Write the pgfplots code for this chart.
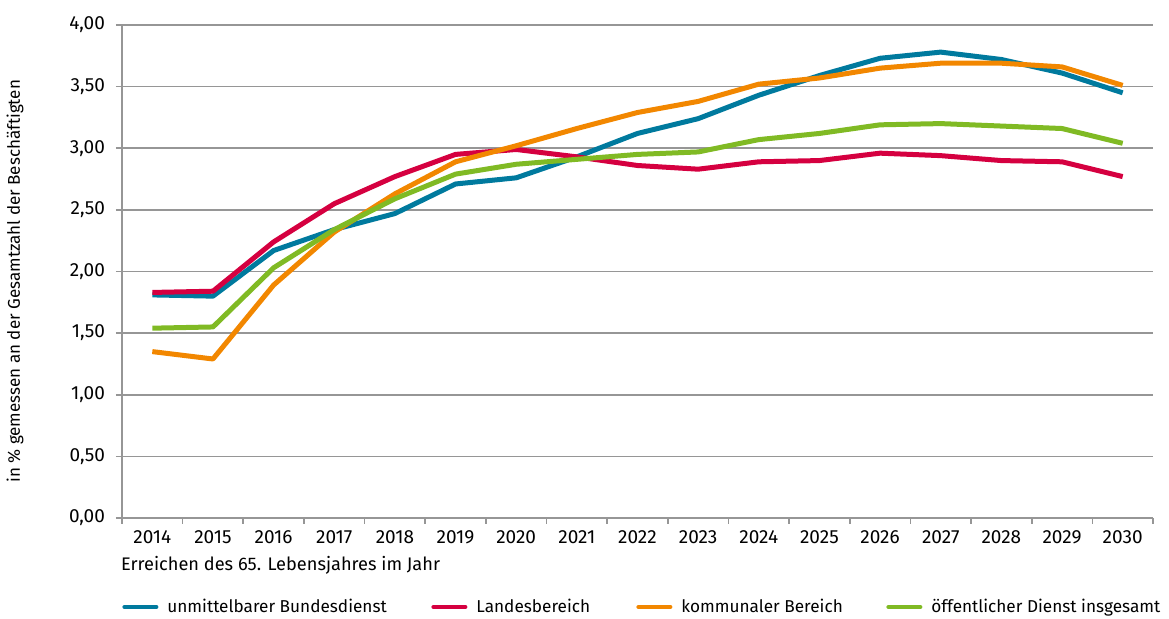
\documentclass[border=0pt]{standalone}
\usepackage{fontspec}
\setmainfont{Fira Sans}
\usepackage{pgfplots}
\pgfplotsset{compat=1.18}
\definecolor{cblue}{RGB}{0,122,158}
\definecolor{cred}{RGB}{213,0,64}
\definecolor{corange}{RGB}{242,135,0}
\definecolor{cgreen}{RGB}{128,186,36}
\definecolor{cgrid}{RGB}{150,150,150}
\begin{document}
\begin{tikzpicture}
\begin{axis}[
  scale only axis,
  width=515.5pt, height=246.5pt,
  xmin=-0.5, xmax=16.5, ymin=0, ymax=4,
  axis x line*=bottom, axis y line*=left,
  axis line style={cgrid, line width=0.8pt},
  xtick={0,...,16},
  xticklabels={2014,2015,2016,2017,2018,2019,2020,2021,2022,2023,2024,2025,2026,2027,2028,2029,2030},
  minor xtick={-0.5,0.5,...,16.5},
  major x tick style={draw=none},
  minor x tick style={cgrid, line width=0.8pt},
  minor tick length=3pt,
  ytick={0,0.5,...,4},
  major y tick style={cgrid, line width=0.8pt},
  major tick length=3pt,
  tick align=outside,
  ymajorgrids,
  grid style={cgrid, line width=0.8pt},
  y tick label style={/pgf/number format/use comma, /pgf/number format/fixed, /pgf/number format/fixed zerofill, /pgf/number format/precision=2, /pgf/number format/assume math mode=true, xshift=-2pt},
  tick label style={font=\fontsize{9.5}{11}\selectfont, text=black},
  x tick label style={yshift=0pt},
  label style={font=\fontsize{9.1}{11}\selectfont},
  ylabel={in \% gemessen an der Gesamtzahl der Beschäftigten},
  ylabel style={at={(axis description cs:-0.1038,0.48)}, anchor=center, font=\fontsize{8.5}{10}\selectfont},
  xlabel={Erreichen des 65. Lebensjahres im Jahr},
  xlabel style={at={(axis description cs:0,0)}, anchor=west, yshift=-23.5pt, xshift=-4pt},
  legend columns=4,
  legend style={at={(axis description cs:0,0)}, anchor=west, xshift=0pt, yshift=-44.5pt,
    draw=none, fill=none, inner sep=0pt, font=\fontsize{8.6}{10}\selectfont,
    nodes={inner xsep=2.5pt, inner ysep=1pt}},
  legend cell align=left,
  legend image code/.code={\draw[#1, line width=2pt, line cap=round] (0pt,0pt) -- (16pt,0pt);},
  every axis plot/.append style={line width=2.5pt, line join=round},
]
\addplot[cblue] coordinates {(0,1.81)(1,1.80)(2,2.17)(3,2.34)(4,2.47)(5,2.71)(6,2.76)(7,2.93)(8,3.12)(9,3.24)(10,3.43)(11,3.59)(12,3.73)(13,3.78)(14,3.72)(15,3.61)(16,3.45)};
\addlegendentry{\makebox[131.5pt][l]{\hspace*{2pt}unmittelbarer Bundesdienst}}
\addplot[cred] coordinates {(0,1.83)(1,1.84)(2,2.24)(3,2.55)(4,2.77)(5,2.95)(6,2.99)(7,2.93)(8,2.86)(9,2.83)(10,2.89)(11,2.90)(12,2.96)(13,2.94)(14,2.90)(15,2.89)(16,2.77)};
\addlegendentry{\makebox[79.5pt][l]{\hspace*{2pt}Landesbereich}}
\addplot[corange] coordinates {(0,1.35)(1,1.29)(2,1.89)(3,2.32)(4,2.63)(5,2.89)(6,3.02)(7,3.16)(8,3.29)(9,3.38)(10,3.52)(11,3.57)(12,3.65)(13,3.69)(14,3.69)(15,3.66)(16,3.51)};
\addlegendentry{\makebox[102pt][l]{\hspace*{2pt}kommunaler Bereich}}
\addplot[cgreen] coordinates {(0,1.54)(1,1.55)(2,2.03)(3,2.34)(4,2.59)(5,2.79)(6,2.87)(7,2.91)(8,2.95)(9,2.97)(10,3.07)(11,3.12)(12,3.19)(13,3.20)(14,3.18)(15,3.16)(16,3.04)};
\addlegendentry{\hspace*{2pt}öffentlicher Dienst insgesamt}
\end{axis}
\pgfresetboundingbox
\path[use as bounding box] (-61pt,-50.5pt) rectangle (523.5pt,259pt);
\end{tikzpicture}
\end{document}
